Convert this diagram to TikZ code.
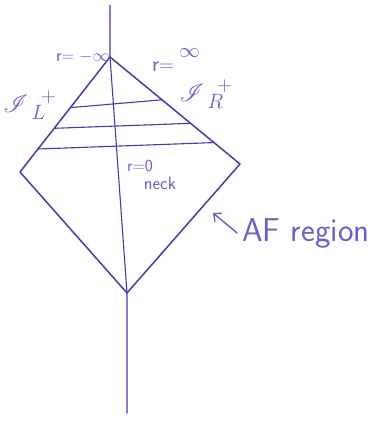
\documentclass[tikz,border=0pt]{standalone}
\usepackage{mathrsfs}
\usetikzlibrary{calc,arrows.meta}

\definecolor{inkline}{RGB}{62,62,168}
\definecolor{inktext}{RGB}{98,98,205}

\tikzset{
  pen/.style={inkline,line width=1.5pt},
  thinpen/.style={inkline,line width=1.1pt},
  scrawl/.style={inktext,inner sep=0pt,font=\sffamily}
}

\begin{document}
\begin{tikzpicture}[x=1pt,y=-1pt,line cap=round,line join=round]
  \useasboundingbox (0,0) rectangle (376,423);

  \coordinate (axtop) at (110,5);
  \coordinate (top) at (110,57);
  \coordinate (left) at (20,172);
  \coordinate (right) at (240,164);
  \coordinate (bottom) at (127,293);
  \coordinate (axbot) at (127,413);

  % the diamond
  \draw[pen] (top) -- (left) -- (bottom) -- (right) -- cycle;
  \draw[thinpen] (axtop) -- (top) -- (bottom) -- (axbot);

  % slices
  \foreach \tl/\tr in {.44/.40,.62/.62,.80/.80}
    \draw[thinpen] ($(top)!\tl!(left)$) -- ($(top)!\tr!(right)$);

  \node[scrawl,font=\sffamily\fontsize{18}{18}\selectfont] (rminf) at (83,57) {r$=-\infty$};
  \node[scrawl,font=\sffamily\fontsize{22}{22}\selectfont] (rinf) at (176,60) {r$=$\hspace{5pt}\raisebox{.65em}{$\infty$}};
  \node[scrawl,font=\fontsize{32}{32}\selectfont] (scril) at (30,105) {$\mathscr{I}^{\hspace{.4em}+}_{\hspace{.25em}L}$};
  \node[scrawl,font=\fontsize{32}{32}\selectfont] (scrir) at (206,94) {$\mathscr{I}^{\hspace{.4em}+}_{\hspace{.25em}R}$};
  \node[scrawl,font=\sffamily\fontsize{17}{17}\selectfont] (rzero) at (140,166) {r$=$0};
  \node[scrawl,font=\sffamily\fontsize{18}{18}\selectfont] (neck) at (160,183) {neck};
  \node[scrawl,font=\sffamily\fontsize{33}{33}\selectfont] (afreg) at (306,233) {AF region};

  \coordinate (afpoint) at (213,213);
  \draw[inktext,line width=1.4pt,-{Straight Barb[length=6pt,width=11pt]}]
    ($(afreg.west)+(-5,0)$) -- (afpoint);
\end{tikzpicture}
\end{document}
